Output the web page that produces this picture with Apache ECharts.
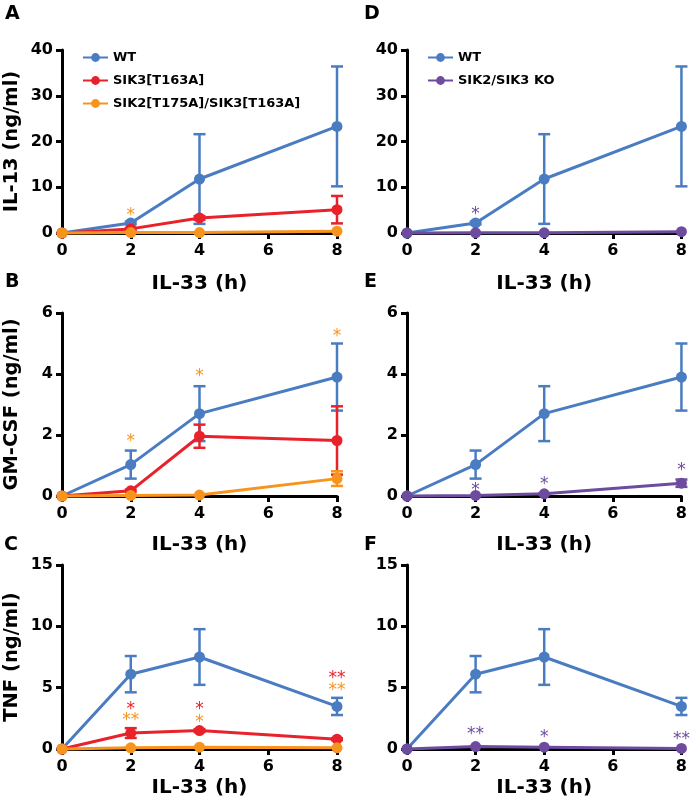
<!DOCTYPE html>
<html>
<head>
<meta charset="utf-8">
<script src="https://cdn.jsdelivr.net/npm/echarts@6/dist/echarts.min.js"></script>
<style>
html,body{margin:0;padding:0;background:#fff;}
#chart{width:690px;height:810px;}
</style>
</head>
<body>
<div id="chart"></div>
<script>
// ---- data ----
const hours = [0, 2, 4, 8];

// IL-13 (ng/ml)
const il13_WT = [0, 2.2, 11.8, 23.3];
const il13_WT_err = [0, 0.3, 9.8, 13.1];
const il13_SIK3 = [0, 0.9, 3.3, 5.1];
const il13_SIK3_err = [0, 0.2, 0.4, 3.0];
const il13_DM = [0, 0.1, 0.1, 0.4];
const il13_KO = [0, 0.05, 0.05, 0.3];

// GM-CSF (ng/ml)
const gm_WT = [0, 1.03, 2.7, 3.9];
const gm_WT_err = [0, 0.46, 0.9, 1.1];
const gm_SIK3 = [0, 0.17, 1.96, 1.82];
const gm_SIK3_err = [0, 0.04, 0.38, 1.12];
const gm_DM = [0, 0.02, 0.03, 0.57];
const gm_DM_err = [0, 0, 0, 0.24];
const gm_KO = [0, 0.02, 0.07, 0.42];
const gm_KO_err = [0, 0, 0.02, 0.12];

// TNF (ng/ml)
const tnf_WT = [0, 6.1, 7.5, 3.47];
const tnf_WT_err = [0, 1.48, 2.27, 0.7];
const tnf_SIK3 = [0, 1.3, 1.5, 0.8];
const tnf_SIK3_err = [0, 0.4, 0.12, 0.08];
const tnf_DM = [0, 0.1, 0.15, 0.1];
const tnf_KO = [0, 0.2, 0.15, 0.05];

// significance marks: [x, y, text]
const starsA = [[2, 4.7, '*']];
const starsD = [[2, 4.9, '*']];
const starsB = [[2, 1.93, '*'], [4, 4.04, '*'], [8, 5.35, '*']];
const starsE = [[2, 0.32, '*'], [4, 0.5, '*'], [8, 0.96, '*']];
const starsC_red = [[2, 3.5, '*'], [4, 3.5, '*'], [8, 6.05, '**']];
const starsC_orange = [[2, 2.66, '**'], [4, 2.45, '*'], [8, 5.1, '**']];
const starsF = [[2, 1.5, '**'], [4, 1.25, '*'], [8, 1.1, '**']];

const names = ['WT', 'SIK3[T163A]', 'SIK2[T175A]/SIK3[T163A]', 'SIK2/SIK3 KO'];
const C = {WT: '#4a7cc1', SIK3: '#e8212b', DM: '#f7941d', KO: '#6d4c9f'};
const FONT = 'DejaVu Sans';

// ---- layout ----
const grids = [
  {left: 62, top: 50, width: 275, height: 183},
  {left: 407, top: 50, width: 275, height: 183},
  {left: 62, top: 313, width: 275, height: 183},
  {left: 407, top: 313, width: 275, height: 183},
  {left: 62, top: 565, width: 275, height: 184},
  {left: 407, top: 565, width: 275, height: 184}
];
const yCfg = [
  {max: 40, interval: 10, name: 'IL-13 (ng/ml)'},
  {max: 40, interval: 10, name: ''},
  {max: 6, interval: 2, name: 'GM-CSF (ng/ml)'},
  {max: 6, interval: 2, name: ''},
  {max: 15, interval: 5, name: 'TNF (ng/ml)'},
  {max: 15, interval: 5, name: ''}
];
const xNameGap = [41, 41, 39, 39, 29, 29];

const axisLine = {show: true, onZero: false, lineStyle: {color: '#000', width: 3}};
const axisTick = {show: true, inside: false, length: 6, lineStyle: {color: '#000', width: 3}};
const labelStyle = {color: '#000', fontFamily: FONT, fontWeight: 'bold', fontSize: 16};

const xAxis = grids.map((g, i) => ({
  gridIndex: i, type: 'value', min: 0, max: 8, interval: 2,
  axisLine, axisTick, splitLine: {show: false},
  axisLabel: Object.assign({margin: 10}, labelStyle),
  name: 'IL-33 (h)', nameLocation: 'middle', nameGap: xNameGap[i],
  nameTextStyle: {color: '#000', fontFamily: FONT, fontWeight: 'bold', fontSize: 20}
}));
const yAxis = grids.map((g, i) => ({
  gridIndex: i, type: 'value', min: 0, max: yCfg[i].max, interval: yCfg[i].interval,
  axisLine, axisTick, splitLine: {show: false},
  axisLabel: Object.assign({margin: 9}, labelStyle),
  name: yCfg[i].name, nameLocation: 'middle', nameGap: 40, nameRotate: 90,
  nameTextStyle: {color: '#000', fontFamily: FONT, fontWeight: 'bold', fontSize: 19.5}
}));

const series = [];
function lineS(name, vals, color, gi, z) {
  series.push({
    name, type: 'line', xAxisIndex: gi, yAxisIndex: gi,
    data: hours.map((h, k) => [h, vals[k]]),
    symbol: 'circle', symbolSize: 11, clip: false, z: z,
    lineStyle: {color, width: 3}, itemStyle: {color}
  });
}
function errS(vals, errs, color, gi, z) {
  const d = [];
  hours.forEach((h, k) => { if (errs[k] > 0) d.push([h, vals[k], errs[k]]); });
  series.push({
    name: 'err', type: 'custom', xAxisIndex: gi, yAxisIndex: gi, z: z, clip: false,
    data: d,
    renderItem: function (params, api) {
      const x = api.value(0), m = api.value(1), e = api.value(2);
      const top = api.coord([x, m + e]);
      const bot = api.coord([x, Math.max(0, m - e)]);
      const hw = 6;
      const st = {stroke: color, lineWidth: 2.5};
      return {type: 'group', children: [
        {type: 'line', shape: {x1: top[0], y1: top[1], x2: bot[0], y2: bot[1]}, style: st},
        {type: 'line', shape: {x1: top[0] - hw, y1: top[1], x2: top[0] + hw, y2: top[1]}, style: st},
        {type: 'line', shape: {x1: bot[0] - hw, y1: bot[1], x2: bot[0] + hw, y2: bot[1]}, style: st}
      ]};
    }
  });
}
function starS(data, color, gi) {
  series.push({
    name: 'stars', type: 'custom', xAxisIndex: gi, yAxisIndex: gi, z: 30, clip: false,
    data: data,
    renderItem: function (params, api) {
      const p = api.coord([api.value(0), api.value(1)]);
      return {type: 'text', x: p[0], y: p[1] + 4, z2: 100,
        style: {text: data[params.dataIndex][2], fill: color, font: 'normal 17px "DejaVu Sans"',
          textAlign: 'center', textVerticalAlign: 'middle', align: 'center', verticalAlign: 'middle'}};
    }
  });
}

// Panel A
errS(il13_WT, il13_WT_err, C.WT, 0, 1); lineS(names[0], il13_WT, C.WT, 0, 2);
errS(il13_SIK3, il13_SIK3_err, C.SIK3, 0, 3); lineS(names[1], il13_SIK3, C.SIK3, 0, 4);
lineS(names[2], il13_DM, C.DM, 0, 6);
starS(starsA, C.DM, 0);
// Panel D
errS(il13_WT, il13_WT_err, C.WT, 1, 1); lineS(names[0], il13_WT, C.WT, 1, 2);
lineS(names[3], il13_KO, C.KO, 1, 6);
starS(starsD, C.KO, 1);
// Panel B
errS(gm_WT, gm_WT_err, C.WT, 2, 1); lineS(names[0], gm_WT, C.WT, 2, 2);
errS(gm_SIK3, gm_SIK3_err, C.SIK3, 2, 3); lineS(names[1], gm_SIK3, C.SIK3, 2, 4);
errS(gm_DM, gm_DM_err, C.DM, 2, 5); lineS(names[2], gm_DM, C.DM, 2, 6);
starS(starsB, C.DM, 2);
// Panel E
errS(gm_WT, gm_WT_err, C.WT, 3, 1); lineS(names[0], gm_WT, C.WT, 3, 2);
errS(gm_KO, gm_KO_err, C.KO, 3, 5); lineS(names[3], gm_KO, C.KO, 3, 6);
starS(starsE, C.KO, 3);
// Panel C
errS(tnf_WT, tnf_WT_err, C.WT, 4, 1); lineS(names[0], tnf_WT, C.WT, 4, 2);
errS(tnf_SIK3, tnf_SIK3_err, C.SIK3, 4, 3); lineS(names[1], tnf_SIK3, C.SIK3, 4, 4);
lineS(names[2], tnf_DM, C.DM, 4, 6);
starS(starsC_red, C.SIK3, 4); starS(starsC_orange, C.DM, 4);
// Panel F
errS(tnf_WT, tnf_WT_err, C.WT, 5, 1); lineS(names[0], tnf_WT, C.WT, 5, 2);
lineS(names[3], tnf_KO, C.KO, 5, 6);
starS(starsF, C.KO, 5);

const legendText = {color: '#000', fontFamily: FONT, fontWeight: 'bold', fontSize: 13};
const legend = [
  {data: [names[0], names[1], names[2]], orient: 'vertical', left: 82, top: 51, padding: 0,
   itemWidth: 25, itemHeight: 11, itemGap: 10, textStyle: legendText, selectedMode: false},
  {data: [names[0], names[3]], orient: 'vertical', left: 427, top: 51, padding: 0,
   itemWidth: 25, itemHeight: 11, itemGap: 10, textStyle: legendText, selectedMode: false}
];

const letterStyle = {color: '#000', fontFamily: FONT, fontWeight: 'bold', fontSize: 19};
const letters = [['A', 5, 5], ['D', 364, 5], ['B', 5, 273], ['E', 364, 273], ['C', 4, 536], ['F', 364, 536]];
const title = letters.map(l => ({text: l[0], left: l[1], top: l[2], padding: 0, textStyle: letterStyle}));

const chart = echarts.init(document.getElementById('chart'), null, {renderer: 'canvas'});
chart.setOption({
  animation: false,
  backgroundColor: '#fff',
  title, legend, grid: grids, xAxis, yAxis, series
});
</script>
</body>
</html>
